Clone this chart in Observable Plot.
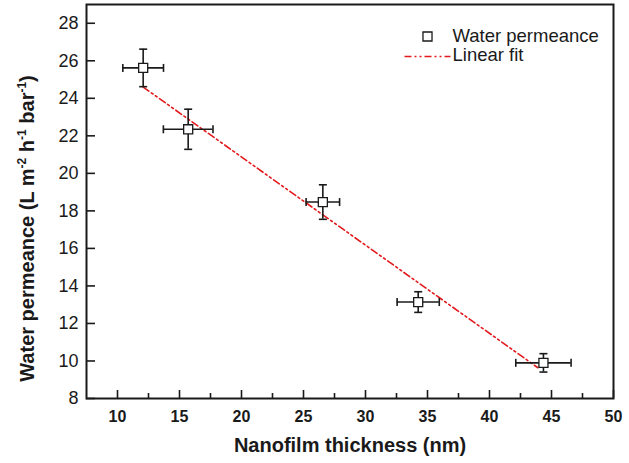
<!DOCTYPE html>
<html><head><meta charset="utf-8">
<script src="https://cdn.jsdelivr.net/npm/d3@7"></script>
<script src="https://cdn.jsdelivr.net/npm/@observablehq/plot@0.6"></script>
<style>body{margin:0;background:#fff}</style>
</head><body><div id="chart"></div>
<script>
const thickness = [12.07, 15.70, 26.56, 34.25, 44.35];
const permeance = [25.62, 22.35, 18.47, 13.14, 9.90];
const thicknessErr = [1.64, 2.00, 1.35, 1.70, 2.23];
const permeanceErr = [1.00, 1.07, 0.92, 0.55, 0.49];
const fitX = [12.07, 43.9];
const fitY = [24.6, 9.64];
const xTicks = [10, 15, 20, 25, 30, 35, 40, 45, 50];
const xMinorTicks = [12.5, 17.5, 22.5, 27.5, 32.5, 37.5, 42.5, 47.5];
const yTicks = [8, 10, 12, 14, 16, 18, 20, 22, 24, 26, 28];
const legendLabels = ["Water permeance", "Linear fit"];
const xLabel = "Nanofilm thickness (nm)";
const yLabel = "Water permeance (L m-2 h-1 bar-1)";

const pts = thickness.map((x, i) => ({x, y: permeance[i], ex: thicknessErr[i], ey: permeanceErr[i]}));
const fit = fitX.map((x, i) => ({x, y: fitY[i]}));
const vCaps = pts.flatMap(d => [{x: d.x, y: d.y - d.ey}, {x: d.x, y: d.y + d.ey}]);
const hCaps = pts.flatMap(d => [{x: d.x - d.ex, y: d.y}, {x: d.x + d.ex, y: d.y}]);

const hcap = {draw(ctx) { ctx.moveTo(-4, 0); ctx.lineTo(4, 0); }};
const vcap = {draw(ctx) { ctx.moveTo(0, -4); ctx.lineTo(0, 4); }};
const legendLine = {draw(ctx) { ctx.moveTo(-23, 0); ctx.lineTo(23, 0); }};

const W = 629, H = 463, mL = 86, mR = 16, mT = 4, mB = 65;
const innerW = W - mL - mR, innerH = H - mT - mB;
const red = "#e3191c", ink = "#1a1a1a";
const font = "Arial, 'Liberation Sans', sans-serif";

const svg = Plot.plot({
  width: W, height: H,
  marginLeft: mL, marginRight: mR, marginTop: mT, marginBottom: mB,
  style: {fontFamily: font, background: "#fff", color: ink},
  x: {domain: [7.5, 50]},
  y: {domain: [8, 29]},
  marks: [
    Plot.axisX({ticks: xTicks, tickSize: 0, tickPadding: 12, fontSize: 16, fontWeight: "bold", label: null, tickFormat: d => String(d)}),
    Plot.axisY({ticks: yTicks, tickSize: 0, tickPadding: 8, fontSize: 18, label: null, tickFormat: d => String(d)}),
    Plot.tickX(xTicks, {x: d => d, insetTop: innerH - 8, stroke: ink, strokeWidth: 1.6}),
    Plot.tickX(xMinorTicks, {x: d => d, insetTop: innerH - 5, stroke: ink, strokeWidth: 1.6}),
    Plot.tickY(yTicks, {y: d => d, insetRight: innerW - 9, stroke: ink, strokeWidth: 1.6}),
    Plot.line(fit, {x: "x", y: "y", stroke: red, strokeWidth: 1.6, strokeDasharray: "7,3,2,3,2,3"}),
    Plot.ruleX(pts, {x: "x", y1: d => d.y - d.ey, y2: d => d.y + d.ey, stroke: ink, strokeWidth: 1.6}),
    Plot.ruleY(pts, {y: "y", x1: d => d.x - d.ex, x2: d => d.x + d.ex, stroke: ink, strokeWidth: 1.6}),
    Plot.dot(vCaps, {x: "x", y: "y", symbol: hcap, fill: "none", stroke: ink, strokeWidth: 1.6, r: 4}),
    Plot.dot(hCaps, {x: "x", y: "y", symbol: vcap, fill: "none", stroke: ink, strokeWidth: 1.6, r: 4}),
    Plot.dot(pts, {x: "x", y: "y", symbol: "square", r: 5.1, fill: "#fff", stroke: ink, strokeWidth: 1.3}),
    Plot.frame({stroke: ink, strokeWidth: 2}),
    // legend
    Plot.dot([legendLabels[0]], {frameAnchor: "top-right", dx: -186, dy: 32, symbol: "square", r: 5.1, fill: "#fff", stroke: ink, strokeWidth: 1.3}),
    Plot.dot([legendLabels[1]], {frameAnchor: "top-right", dx: -186, dy: 52, symbol: legendLine, r: 4, fill: "none", stroke: red, strokeWidth: 1.6, strokeDasharray: "7,3,2,3,2,3"}),
    Plot.text([legendLabels[0]], {frameAnchor: "top-right", text: d => d, textAnchor: "start", lineAnchor: "middle", dx: -161, dy: 32, fontSize: 18.5, fill: ink}),
    Plot.text([legendLabels[1]], {frameAnchor: "top-right", text: d => d, textAnchor: "start", lineAnchor: "middle", dx: -161, dy: 51, fontSize: 18.5, fill: ink}),
    // axis titles
    Plot.text([xLabel], {frameAnchor: "bottom", text: d => d, textAnchor: "middle", lineAnchor: "top", dy: 39, fontSize: 20, fontWeight: "bold", fill: ink}),
    Plot.text([yLabel], {frameAnchor: "left", text: d => d, textAnchor: "middle", lineAnchor: "middle", rotate: -90, dx: -59, dy: 27, fontSize: 20, fontWeight: "bold", fill: ink})
  ]
});

// superscripts in the y-axis title
d3.select(svg).selectAll("text").filter(function() { return this.textContent === yLabel; }).each(function() {
  const t = d3.select(this);
  t.text(null);
  const parts = [["Water permeance (L m", 0], ["-2", 1], [" h", 0], ["-1", 1], [" bar", 0], ["-1", 1], [")", 0]];
  let raised = false;
  for (const [s, sup] of parts) {
    const ts = t.append("tspan").text(s);
    if (sup) { ts.attr("font-size", 12).attr("dy", -8); raised = true; }
    else if (raised) { ts.attr("dy", 8); raised = false; }
  }
});

document.getElementById("chart").appendChild(svg);
</script>
</body></html>
